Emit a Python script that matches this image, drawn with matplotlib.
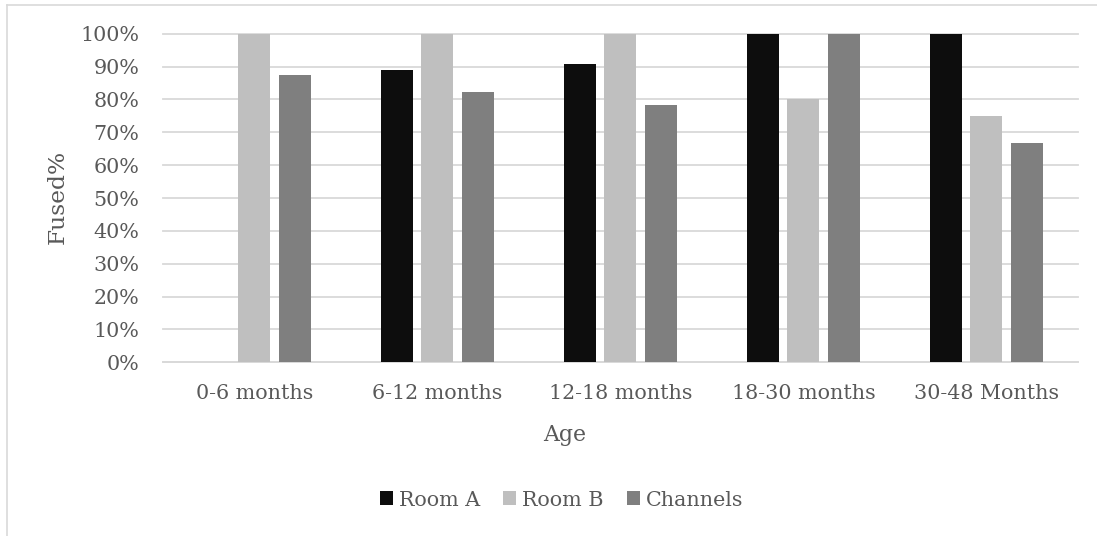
import matplotlib
matplotlib.use("Agg")
import matplotlib.pyplot as plt
from matplotlib.lines import Line2D
import numpy as np

categories = ["0-6 months", "6-12 months", "12-18 months", "18-30 months", "30-48 Months"]
room_a = [0, 88.9, 90.9, 100, 100]
room_b = [100, 100, 100, 80, 75]
channels = [87.5, 82.4, 78.4, 100, 66.7]
series_names = ["Room A", "Room B", "Channels"]
yticks = list(range(0, 101, 10))
ytick_labels = [f"{v}%" for v in yticks]

colors = ["#0D0D0D", "#BFBFBF", "#7F7F7F"]
text_color = "#595959"
grid_color = "#D9D9D9"
font = "DejaVu Serif"
plt.rcParams["font.family"] = font

W, H = 1097, 536
fig = plt.figure(figsize=(W / 100, H / 100), dpi=100)
left, right, top, bottom = 162.7, 1078, 33.7, 362.3
ax = fig.add_axes([left / W, 1 - bottom / H, (right - left) / W, (bottom - top) / H])

x = np.arange(len(categories))
width = 0.175
offsets = [-0.221, 0, 0.221]
handles = []
for vals, off, c, name in zip([room_a, room_b, channels], offsets, colors, series_names):
    b = ax.bar(x + off, vals, width, color=c, label=name, zorder=3)
    handles.append(b)

ax.set_xlim(-0.5, len(categories) - 0.5)
ax.set_ylim(0, 100)
ax.set_yticks(yticks)
ax.set_yticklabels(ytick_labels)
ax.set_xticks(x)
ax.set_xticklabels(categories)
ax.tick_params(axis="y", length=0, pad=16.8, labelsize=14.9, labelcolor=text_color)
ax.tick_params(axis="x", length=0, pad=15.3, labelsize=14.9, labelcolor=text_color)

ax.yaxis.grid(True, color=grid_color, linewidth=1.3, zorder=0)
for gl in ax.get_ygridlines():
    gl.set_clip_on(False)
ax.set_axisbelow(True)
for s in ["left", "right", "top"]:
    ax.spines[s].set_visible(False)
ax.spines["bottom"].set_color(grid_color)
ax.spines["bottom"].set_linewidth(1.3)

fig.text(57.5 / W, 1 - 197 / H, "Fused%", rotation=90, ha="center", va="center",
         fontsize=16.8, color=text_color)
fig.text(565 / W, 1 - 435 / H, "Age", ha="center", va="center", fontsize=15.8, color=text_color)

fig.legend(handles=handles, labels=series_names, loc="center",
           bbox_to_anchor=(561.5 / W, 1 - 500 / H), ncol=3, frameon=False,
           fontsize=14.9, labelcolor=text_color, handlelength=0.64, handleheight=0.64,
           handletextpad=0.28, columnspacing=1.12, borderaxespad=0, borderpad=0)

# outer chart frame (cropped on right and bottom)
fx = 6.7 / W
fy = 1 - 5.3 / H
fig.add_artist(Line2D([fx, fx], [0, fy], transform=fig.transFigure, color=grid_color, linewidth=1.2))
fig.add_artist(Line2D([fx, 1], [fy, fy], transform=fig.transFigure, color=grid_color, linewidth=1.2))

fig.savefig("out.png", dpi=100, facecolor="white")
